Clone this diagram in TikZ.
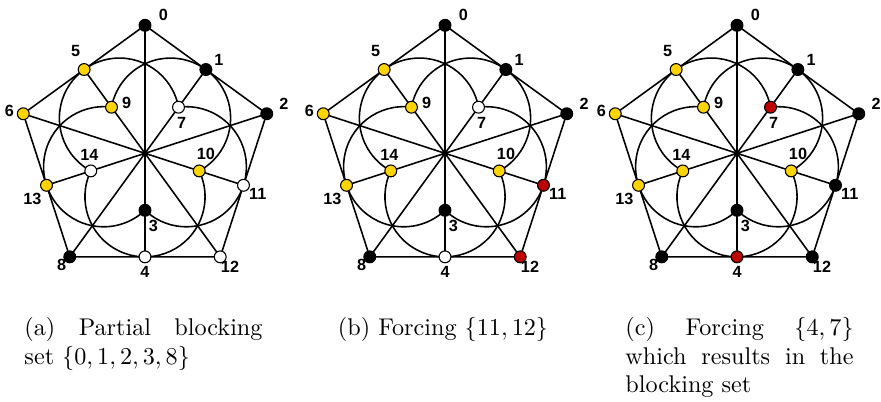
\documentclass[tikz,border=0pt]{standalone}
\usepackage{fontspec}
\newfontfamily\labfont{Liberation Sans}
\definecolor{nodeyellow}{RGB}{255,212,0}
\definecolor{nodered}{RGB}{190,0,0}
\tikzset{
  edgeline/.style={line width=0.65pt, draw=black},
  vtx/.style={circle, draw=black, line width=0.45pt, minimum size=4.9pt, inner sep=0pt},
  vlab/.style={inner sep=0pt, font=\labfont\bfseries\fontsize{6.7}{7.5}\selectfont},
  captext/.style={inner sep=0pt, anchor=base west, font=\fontsize{10}{12}\selectfont},
}
\newcommand\doilypanel[3]{%
\begin{scope}[shift={(#2,-153.3)}]
  \coordinate (#1p0)  at (90:128);
  \coordinate (#1p2)  at (18:128);
  \coordinate (#1p12) at (-54:128);
  \coordinate (#1p8)  at (-126:128);
  \coordinate (#1p6)  at (162:128);
  \coordinate (#1p1)  at (54:103.55);
  \coordinate (#1p11) at (-18:103.55);
  \coordinate (#1p4)  at (-90:103.55);
  \coordinate (#1p13) at (198:103.55);
  \coordinate (#1p5)  at (126:103.55);
  \coordinate (#1p7)  at (54:57);
  \coordinate (#1p10) at (-18:57);
  \coordinate (#1p3)  at (-90:57);
  \coordinate (#1p14) at (198:57);
  \coordinate (#1p9)  at (126:57);
  \draw[edgeline] (#1p0) -- (#1p1) -- (#1p2) -- (#1p11) -- (#1p12) -- (#1p4) -- (#1p8) -- (#1p13) -- (#1p6) -- (#1p5) -- cycle;
  \draw[edgeline] (#1p1) -- (#1p8) (#1p5) -- (#1p12) (#1p0) -- (#1p4) (#1p6) -- (#1p11) (#1p2) -- (#1p13);
  \foreach \th/\s in {126/7, 54/10, -18/3, -90/14, 198/9}
    \draw[edgeline] (#1p\s) arc[start angle=\th-115.51, end angle=\th+115.51, radius=24.83pt];
  \foreach \i/\c in {#3} \node[vtx, fill=\c] (#1n\i) at (#1p\i) {};
  \foreach \i/\lx/\ly in {0/18.3/138.3, 1/74/93.3, 2/139/49, 5/-69.3/102.6, 6/-135.7/42.3,
      9/-18.3/50, 7/36.7/30, 14/-55.7/-1.7, 10/61/-1, 13/-112.7/-46, 11/112.7/-40.7,
      3/8.3/-72.4, 8/-83.3/-111.7, 4/0/-119, 12/85/-113.4}
    \node[vlab] (#1l\i) at (\lx,\ly) {\i};
\end{scope}}
\begin{document}
\begin{tikzpicture}[x=0.4134pt, y=0.4134pt]
  \useasboundingbox (0,0) rectangle (881,-401);
  \doilypanel{a}{145}{0/black,1/black,2/black,3/black,8/black,5/nodeyellow,6/nodeyellow,9/nodeyellow,10/nodeyellow,13/nodeyellow,7/white,14/white,11/white,4/white,12/white}
  \doilypanel{b}{445}{0/black,1/black,2/black,3/black,8/black,5/nodeyellow,6/nodeyellow,9/nodeyellow,10/nodeyellow,13/nodeyellow,14/nodeyellow,7/white,4/white,11/nodered,12/nodered}
  \doilypanel{c}{737}{0/black,1/black,2/black,3/black,8/black,11/black,12/black,5/nodeyellow,6/nodeyellow,9/nodeyellow,10/nodeyellow,13/nodeyellow,14/nodeyellow,7/nodered,4/nodered}
  \node[captext] (capa1) at (24,-335) {\makebox[98.4pt][s]{(a) Partial blocking}};
  \node[captext] (capa2) at (24,-364) {set $\{0,1,2,3,8\}$};
  \node[captext, anchor=base] (capb) at (443,-335) {(b) Forcing $\{11,12\}$};
  \node[captext] (capc1) at (625,-335) {\makebox[94.3pt][s]{(c) Forcing $\{4,7\}$}};
  \node[captext] (capc2) at (625,-364) {\makebox[94.3pt][s]{which results in the}};
  \node[captext] (capc3) at (625,-392) {blocking set};
\end{tikzpicture}
\end{document}
